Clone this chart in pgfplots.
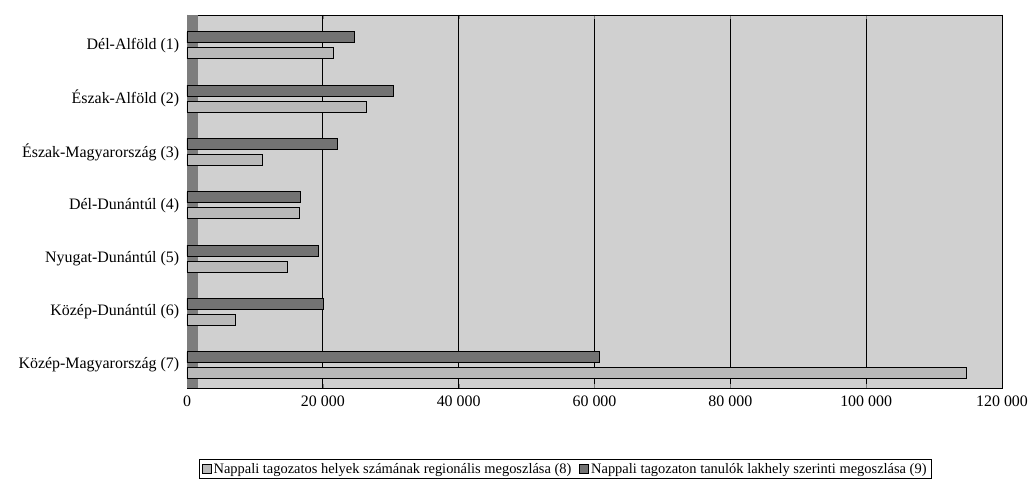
\documentclass[border=0pt]{standalone}
\usepackage{fontspec}
\setmainfont{Liberation Serif}
\usepackage{pgfplots}
\pgfplotsset{compat=1.18}
\definecolor{bg}{RGB}{208,208,208}
\definecolor{darkbar}{RGB}{115,115,115}
\definecolor{lightbar}{RGB}{185,185,185}
\definecolor{wall}{RGB}{125,125,125}
\begin{document}
\begin{tikzpicture}[x=1bp,y=1bp]
\path (-187,-104) rectangle (846,388);
\begin{axis}[
  at={(0,0)}, anchor=south west, scale only axis,
  width=815bp, height=373bp,
  xmin=0, xmax=120000, ymin=0.43, ymax=7.43, y dir=reverse,
  xbar, bar width=11bp,
  ytick={1,...,7},
  yticklabels={Dél-Alföld (1),Észak-Alföld (2),Észak-Magyarország (3),Dél-Dunántúl (4),Nyugat-Dunántúl (5),Közép-Dunántúl (6),Közép-Magyarország (7)},
  xtick={0,20000,40000,60000,80000,100000,120000},
  xticklabels={0,20 000,40 000,60 000,80 000,100 000,120 000},
  scaled x ticks=false,
  xmajorgrids, grid style={black, line width=0.8pt},
  major y tick style={draw=none},
  yticklabel style={font=\fontsize{16}{18}\selectfont},
  xticklabel style={font=\fontsize{16}{18}\selectfont, yshift=-4bp},
  axis line style={black, line width=0.6pt},
  axis background/.style={fill=bg},
  legend style={at={(0.464,-0.217)}, anchor=center, legend columns=2, draw=black, fill=white,
    font=\fontsize{14.5}{16}\selectfont, /tikz/every even column/.append style={column sep=6bp}},
  legend image code/.code={\draw[#1,draw=black] (0bp,-4.5bp) rectangle (9bp,4.5bp);},
]
\fill[wall] (rel axis cs:0,0) rectangle (rel axis cs:0.013,1);
\addplot[fill=lightbar, draw=black, line width=0.8pt, bar shift=-8bp] coordinates {
 (21500,1) (26400,2) (11100,3) (16600,4) (14800,5) (7100,6) (114800,7)};
\addplot[fill=darkbar, draw=black, line width=0.8pt, bar shift=8bp] coordinates {
 (24700,1) (30400,2) (22200,3) (16700,4) (19400,5) (20100,6) (60700,7)};
\legend{Nappali tagozatos helyek számának regionális megoszlása (8),Nappali tagozaton tanulók lakhely szerinti megoszlása (9)}
\end{axis}
\end{tikzpicture}
\end{document}
